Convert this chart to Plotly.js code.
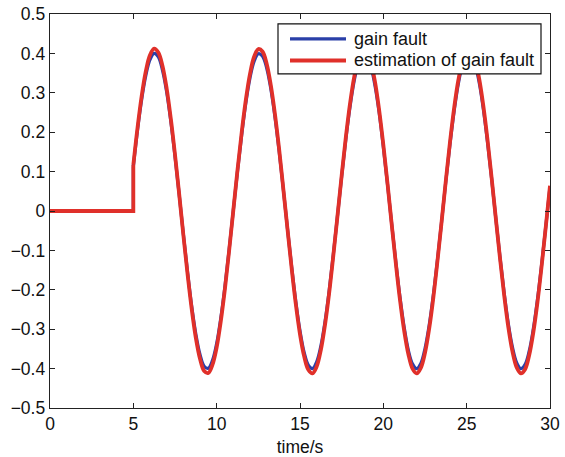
<!DOCTYPE html>
<html>
<head>
<meta charset="utf-8">
<script src="https://cdn.plot.ly/plotly-3.0.1.min.js"></script>
<style>
  html, body { margin: 0; padding: 0; background: #fff; }
  #chart { width: 565px; height: 457px; }
</style>
</head>
<body>
<div id="chart"></div>
<script>
// Time samples (s): flat part before the fault, then 0.25 s steps from 5 to 30
const timeBefore = [0, 5];
const timeAfter = [
  5, 5.25, 5.5, 5.75, 6, 6.25, 6.5, 6.75, 7, 7.25, 7.5, 7.75,
  8, 8.25, 8.5, 8.75, 9, 9.25, 9.5, 9.75, 10, 10.25, 10.5, 10.75,
  11, 11.25, 11.5, 11.75, 12, 12.25, 12.5, 12.75, 13, 13.25, 13.5, 13.75,
  14, 14.25, 14.5, 14.75, 15, 15.25, 15.5, 15.75, 16, 16.25, 16.5, 16.75,
  17, 17.25, 17.5, 17.75, 18, 18.25, 18.5, 18.75, 19, 19.25, 19.5, 19.75,
  20, 20.25, 20.5, 20.75, 21, 21.25, 21.5, 21.75, 22, 22.25, 22.5, 22.75,
  23, 23.25, 23.5, 23.75, 24, 24.25, 24.5, 24.75, 25, 25.25, 25.5, 25.75,
  26, 26.25, 26.5, 26.75, 27, 27.25, 27.5, 27.75, 28, 28.25, 28.5, 28.75,
  29, 29.25, 29.5, 29.75, 30
];

// Gain fault (true)
const faultBefore = [0, 0];
const faultAfter = [
  0.113, 0.205, 0.283, 0.344, 0.384, 0.400, 0.391, 0.357, 0.302, 0.227, 0.139, 0.042,
  -0.058, -0.154, -0.241, -0.312, -0.364, -0.394, -0.399, -0.379, -0.336, -0.271, -0.190, -0.097,
  0.002, 0.101, 0.193, 0.274, 0.338, 0.380, 0.399, 0.393, 0.363, 0.310, 0.238, 0.151,
  0.055, -0.045, -0.142, -0.230, -0.304, -0.359, -0.391, -0.400, -0.383, -0.343, -0.281, -0.202,
  -0.110, -0.012, 0.088, 0.182, 0.264, 0.330, 0.376, 0.398, 0.395, 0.368, 0.318, 0.249,
  0.163, 0.068, -0.032, -0.129, -0.219, -0.295, -0.353, -0.388, -0.400, -0.387, -0.349, -0.290,
  -0.213, -0.123, -0.025, 0.075, 0.170, 0.254, 0.323, 0.371, 0.396, 0.397, 0.373, 0.326,
  0.259, 0.175, 0.081, -0.019, -0.117, -0.208, -0.286, -0.346, -0.385, -0.400, -0.390, -0.356,
  -0.299, -0.224, -0.135, -0.038, 0.062
];

// Estimated gain fault
const estBefore = [0, 0];
const estAfter = [
  0.117, 0.211, 0.292, 0.355, 0.396, 0.412, 0.402, 0.368, 0.311, 0.234, 0.143, 0.043,
  -0.060, -0.159, -0.248, -0.322, -0.375, -0.406, -0.411, -0.390, -0.346, -0.279, -0.196, -0.100,
  0.002, 0.104, 0.199, 0.282, 0.348, 0.392, 0.411, 0.405, 0.374, 0.319, 0.245, 0.156,
  0.056, -0.046, -0.146, -0.237, -0.313, -0.369, -0.403, -0.412, -0.395, -0.353, -0.289, -0.208,
  -0.113, -0.012, 0.090, 0.187, 0.272, 0.340, 0.387, 0.410, 0.407, 0.379, 0.328, 0.256,
  0.168, 0.070, -0.033, -0.133, -0.226, -0.304, -0.363, -0.400, -0.412, -0.398, -0.360, -0.299,
  -0.220, -0.126, -0.026, 0.077, 0.175, 0.262, 0.332, 0.382, 0.408, 0.409, 0.385, 0.336,
  0.267, 0.181, 0.083, -0.019, -0.120, -0.214, -0.295, -0.357, -0.397, -0.412, -0.402, -0.366,
  -0.308, -0.231, -0.139, -0.039, 0.064
];

const xTicks = [0, 5, 10, 15, 20, 25, 30];
const yTicks = [-0.5, -0.4, -0.3, -0.2, -0.1, 0, 0.1, 0.2, 0.3, 0.4, 0.5];
const seriesNames = ['gain fault', 'estimation of gain fault'];

const BLUE = '#2a3fa8';
const RED = '#e0302a';
const FONT = 'Liberation Sans, Arial, sans-serif';
const LINE_W = [3.2, 3.8];
const COLORS = [BLUE, RED];

// Each series: a straight segment (flat part + step at t = 5) and a smooth curve after it
function seriesTraces(name, before, after, color, width) {
  return [
    {
      x: timeBefore.concat([timeAfter[0]]), y: before.concat([after[0]]),
      type: 'scatter', mode: 'lines', name: name, showlegend: false,
      line: { color: color, width: width }
    },
    {
      x: timeAfter, y: after, type: 'scatter', mode: 'lines', name: name, showlegend: false,
      line: { color: color, width: width, shape: 'spline', smoothing: 1 }
    }
  ];
}

const traces = []
  .concat(seriesTraces(seriesNames[0], faultBefore, faultAfter, COLORS[0], LINE_W[0]))
  .concat(seriesTraces(seriesNames[1], estBefore, estAfter, COLORS[1], LINE_W[1]));

// Compact boxed key in the upper right corner (paper coordinates)
const key = { x0: 0.456, x1: 0.982, y0: 0.848, y1: 0.975, lineX0: 0.48, lineX1: 0.592, textX: 0.604, rows: [0.937, 0.882] };
const shapes = [
  { type: 'rect', xref: 'paper', yref: 'paper', x0: key.x0, x1: key.x1, y0: key.y0, y1: key.y1,
    line: { color: '#111', width: 1.2 }, fillcolor: '#fff', layer: 'above' }
];
const annotations = [];
seriesNames.forEach((name, i) => {
  shapes.push({ type: 'line', xref: 'paper', yref: 'paper', x0: key.lineX0, x1: key.lineX1,
    y0: key.rows[i], y1: key.rows[i], line: { color: COLORS[i], width: LINE_W[i] }, layer: 'above' });
  annotations.push({ xref: 'paper', yref: 'paper', x: key.textX, y: key.rows[i], xanchor: 'left', yanchor: 'middle',
    text: name, showarrow: false, font: { family: FONT, size: 18, color: '#111' } });
});

const axisCommon = {
  showline: true, mirror: 'ticks', linecolor: '#222', linewidth: 1.3,
  ticks: 'inside', ticklen: 5, tickcolor: '#222', tickwidth: 1,
  showgrid: false, zeroline: false,
  tickfont: { family: FONT, size: 17.5, color: '#111' }
};

const layout = {
  width: 565, height: 457,
  margin: { l: 50, r: 15, t: 14, b: 49 },
  paper_bgcolor: '#fff', plot_bgcolor: '#fff',
  showlegend: false,
  shapes: shapes,
  annotations: annotations,
  xaxis: Object.assign({}, axisCommon, {
    range: [0, 30], tickvals: xTicks, ticktext: xTicks.map(String),
    title: { text: 'time/s', standoff: 7, font: { family: FONT, size: 17.5, color: '#111' } }
  }),
  yaxis: Object.assign({}, axisCommon, {
    range: [-0.5, 0.5], tickvals: yTicks,
    ticktext: yTicks.map(v => v === 0 ? '0' : (v < 0 ? '\u2212' + Math.abs(v).toFixed(1) : v.toFixed(1)))
  })
};

Plotly.newPlot('chart', traces, layout, { staticPlot: true, displayModeBar: false });
</script>
</body>
</html>
